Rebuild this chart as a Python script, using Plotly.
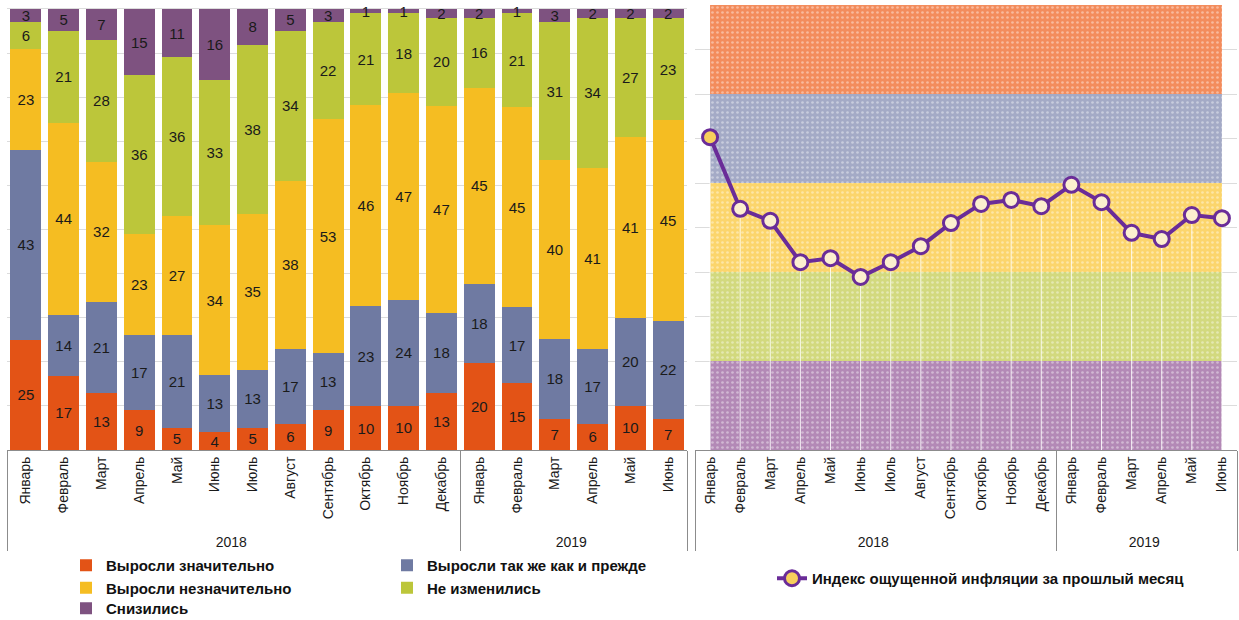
import plotly.graph_objects as go

W, H = 1239, 620

months = ["Январь", "Февраль", "Март", "Апрель", "Май", "Июнь", "Июль", "Август",
          "Сентябрь", "Октябрь", "Ноябрь", "Декабрь",
          "Январь", "Февраль", "Март", "Апрель", "Май", "Июнь"]
years = ["2018"] * 12 + ["2019"] * 6

grew_much = [25, 17, 13, 9, 5, 4, 5, 6, 9, 10, 10, 13, 20, 15, 7, 6, 10, 7]
grew_same = [43, 14, 21, 17, 21, 13, 13, 17, 13, 23, 24, 18, 18, 17, 18, 17, 20, 22]
grew_little = [23, 44, 32, 23, 27, 34, 35, 38, 53, 46, 47, 47, 45, 45, 40, 41, 41, 45]
unchanged = [6, 21, 28, 36, 36, 33, 38, 34, 22, 21, 18, 20, 16, 21, 31, 34, 27, 23]
decreased = [3, 5, 7, 15, 11, 16, 8, 5, 3, 1, 1, 2, 2, 1, 3, 2, 2, 2]

inflation_index = [70.3, 54.2, 51.5, 42.2, 43.1, 38.9, 42.2, 45.8, 51.0, 55.3,
                   56.2, 54.8, 59.6, 55.7, 48.8, 47.4, 52.8, 52.1]

series_names = ["Выросли значительно", "Выросли так же как и прежде",
                "Выросли незначительно", "Не изменились", "Снизились"]
series_values = [grew_much, grew_same, grew_little, unchanged, decreased]
series_colors = ["#E35316", "#6F7AA2", "#F5BD22", "#BCC63A", "#7E5280"]
series_legend = ["legend", "legend2", "legend", "legend2", "legend4"]

zone_edges = [0, 20, 40, 60, 80, 100]
zone_colors = ["#B389B6", "#D2D97E", "#FBD56C", "#A4AAC6", "#F38C5C"]

line_name = "Индекс ощущенной инфляции за прошлый месяц"

FONT = "Liberation Sans, Arial, sans-serif"


def fx(sx):
    return min(1.0, max(0.0, sx / W))


def fy(sy):
    return min(1.0, max(0.0, 1 - sy / H))


fig = go.Figure()
x_mc = [years, months]

for name, vals, col, lg in zip(series_names, series_values, series_colors, series_legend):
    fig.add_trace(go.Bar(
        x=x_mc, y=vals, name=name, marker=dict(color=col, line=dict(width=0)),
        text=[str(v) for v in vals], textposition="inside", insidetextanchor="middle",
        textangle=0, textfont=dict(family=FONT, size=15, color="#1a1a1a"),
        cliponaxis=False,
        xaxis="x", yaxis="y", legend=lg, hoverinfo="skip",
    ))

# background zones on the right chart
for i in range(1, len(zone_edges)):
    fig.add_trace(go.Scatter(
        x=x_mc, y=[zone_edges[i]] * len(months), mode="lines",
        line=dict(width=0), fill="tozeroy" if i == 1 else "tonexty",
        fillcolor=zone_colors[i - 1],
        fillpattern=dict(shape=".", bgcolor=zone_colors[i - 1], fgcolor="white",
                         fgopacity=0.4, size=5, solidity=0.22),
        showlegend=False, hoverinfo="skip", xaxis="x2", yaxis="y2",
    ))

# drop lines
fig.add_trace(go.Scatter(
    x=x_mc, y=inflation_index, mode="markers",
    marker=dict(size=1, color="rgba(0,0,0,0)"),
    error_y=dict(type="data", symmetric=False, array=[0] * len(inflation_index),
                 arrayminus=inflation_index, color="rgba(255,255,255,0.85)",
                 thickness=1, width=0),
    showlegend=False, hoverinfo="skip", xaxis="x2", yaxis="y2",
))

marker_fill = ["#F7CF5C"] + ["#FCEFCF"] * (len(inflation_index) - 1)
fig.add_trace(go.Scatter(
    x=x_mc, y=inflation_index, mode="lines+markers", name=line_name,
    line=dict(color="#6A2C98", width=4),
    marker=dict(size=15, color=marker_fill, line=dict(color="#6A2C98", width=3)),
    xaxis="x2", yaxis="y2", legend="legend3",
))

y_dom = [fy(450), fy(5)]
xaxis_common = dict(
    type="multicategory", showline=True, linecolor="#8C8C8C", linewidth=1,
    showdividers=True, dividercolor="#8C8C8C", dividerwidth=1,
    tickangle=-90, ticks="", showgrid=False, automargin=False,
    tickfont=dict(family=FONT, size=14, color="#1a1a1a"),
    range=[-0.5, len(months) - 0.5],
)
yaxis_common = dict(showticklabels=False, showgrid=True, gridcolor="#DCDCDC",
                    gridwidth=1, dtick=10, tick0=0, zeroline=False, showline=False,
                    ticks="", automargin=False)

legend_common = dict(bgcolor="rgba(0,0,0,0)",
                     font=dict(family=FONT, size=15, color="#111", weight="bold"),
                     orientation="v", traceorder="normal", xanchor="left", yanchor="top",
                     tracegroupgap=0, itemclick=False)

fig.update_layout(
    width=W, height=H, margin=dict(l=0, r=0, t=0, b=0, autoexpand=False),
    paper_bgcolor="white", plot_bgcolor="white",
    barmode="stack", barnorm="percent", bargap=0.18,
    uniformtext=dict(minsize=15, mode="show"),
    font=dict(family=FONT, color="#1a1a1a"),
    xaxis=dict(domain=[fx(7), fx(687)], anchor="y", **xaxis_common),
    yaxis=dict(domain=y_dom, anchor="x", range=[0, 100.9], **yaxis_common),
    xaxis2=dict(domain=[fx(695), fx(1237)], anchor="y2", **xaxis_common),
    yaxis2=dict(domain=y_dom, anchor="x2", range=[0, 100], **yaxis_common),
    legend=dict(x=fx(66), y=fy(549), **legend_common),
    legend2=dict(x=fx(387), y=fy(549), **legend_common),
    legend4=dict(x=fx(66), y=fy(592), **legend_common),
    legend3=dict(x=fx(772), y=fy(562), **legend_common),
    showlegend=True,
)

fig.write_html("out.html", config={"displayModeBar": False},
               post_script="document.body.style.margin='0px';")
